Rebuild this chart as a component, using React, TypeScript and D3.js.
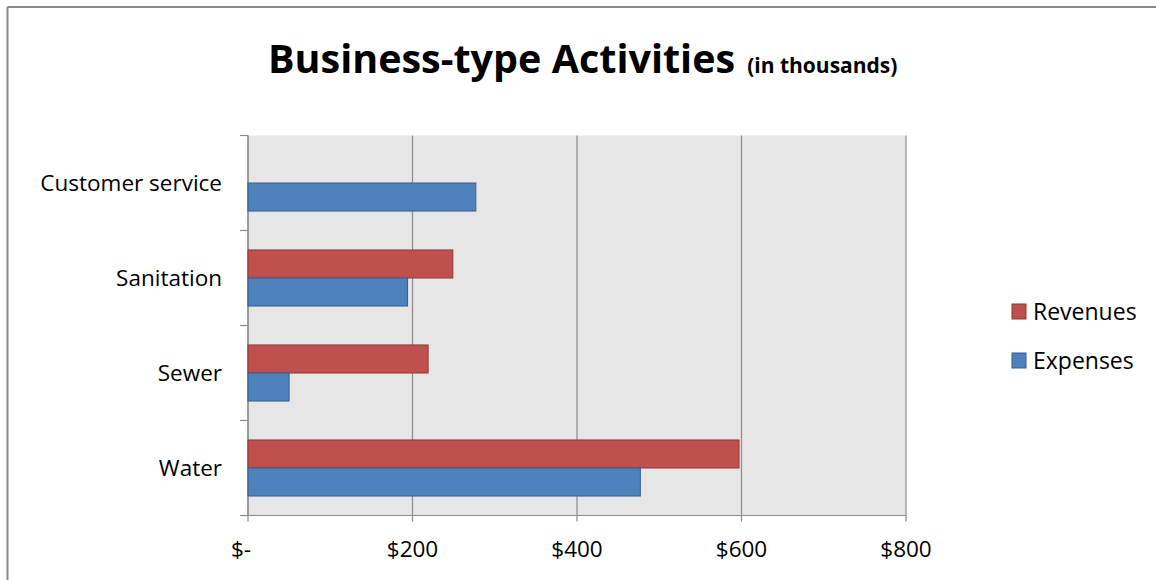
import React from "react";
import * as d3 from "d3";

const categories = ["Customer service", "Sanitation", "Sewer", "Water"];
const revenues = [0, 249, 219, 597];
const expenses = [277, 194, 50, 477];
const xTicks = [0, 200, 400, 600, 800];
const seriesNames = ["Revenues", "Expenses"];
const seriesColors = ["#c0504d", "#4f81bd"];
const seriesStroke = ["#8c3836", "#385d8a"];

const W = 1156;
const H = 580;
const FONT = "'Open Sans', 'Liberation Sans', sans-serif";

export default function App() {
  const x = d3.scaleLinear().domain([0, 800]).range([248, 906]);
  const y = d3.scaleBand<string>().domain(categories).range([135.5, 515.5]);
  const bw = y.bandwidth();
  const barH = bw * 0.295;
  const fmt = (v: number) => (v === 0 ? "$-" : d3.format("$,")(v));
  const series = [revenues, expenses];

  return (
    <svg width={W} height={H} style={{ position: "absolute", left: 0, top: 0, background: "#fff" }}>
      <rect x={0} y={0} width={W} height={H} fill="#fff" />
      {/* outer border */}
      <line x1={7.5} y1={7} x2={W} y2={7} stroke="#888" strokeWidth={2} />
      <line x1={7.5} y1={7} x2={7.5} y2={H} stroke="#888" strokeWidth={2} />
      {/* title */}
      <text x={268} y={73} fontFamily={FONT} fontWeight="bold" fontSize={39.5} fill="#000">
        Business-type Activities
        <tspan fontSize={21} dx={12}>(in thousands)</tspan>
      </text>
      {/* plot area */}
      <rect x={x(0)} y={y.range()[0]} width={x(800) - x(0)} height={y.range()[1] - y.range()[0]} fill="#e6e6e6" />
      {xTicks.map((t) => (
        <g key={t}>
          <line x1={x(t)} x2={x(t)} y1={y.range()[0]} y2={y.range()[1] + 6} stroke="#8c8c8c" strokeWidth={1.2} />
          <text
            x={x(t)}
            dx={t === 0 ? -7 : 0}
            y={557}
            textAnchor="middle"
            fontFamily={FONT}
            fontSize={22.5}
            fill="#000"
          >
            {fmt(t)}
          </text>
        </g>
      ))}
      {/* axes */}
      <line x1={x(0)} x2={x(0)} y1={y.range()[0]} y2={y.range()[1]} stroke="#8c8c8c" strokeWidth={1.2} />
      <line x1={x(0)} x2={x(800)} y1={y.range()[1]} y2={y.range()[1]} stroke="#8c8c8c" strokeWidth={1.2} />
      {[...categories.map((c) => y(c) as number), y.range()[1]].map((py, i) => (
        <line key={i} x1={x(0) - 8} x2={x(0)} y1={py} y2={py} stroke="#8c8c8c" strokeWidth={1.2} />
      ))}
      {categories.map((c) => (
        <text
          key={c}
          x={222}
          y={(y(c) as number) + bw / 2 + 8}
          textAnchor="end"
          fontFamily={FONT}
          fontSize={22.5}
          fill="#000"
        >
          {c}
        </text>
      ))}
      {/* bars */}
      {series.map((vals, si) =>
        categories.map((c, ci) =>
          vals[ci] > 0 ? (
            <rect
              key={`${si}-${ci}`}
              x={x(0)}
              y={(y(c) as number) + bw / 2 - barH + si * barH}
              width={x(vals[ci]) - x(0)}
              height={barH}
              fill={seriesColors[si]}
              stroke={seriesStroke[si]}
              strokeWidth={1}
            />
          ) : null
        )
      )}
      {/* legend */}
      {seriesNames.map((n, i) => (
        <g key={n} transform={`translate(1012, ${304 + i * 49})`}>
          <rect x={0} y={0} width={14} height={15} fill={seriesColors[i]} stroke={seriesStroke[i]} strokeWidth={1} />
          <text x={21} y={16} fontFamily={FONT} fontSize={23} fill="#000">
            {n}
          </text>
        </g>
      ))}
    </svg>
  );
}
